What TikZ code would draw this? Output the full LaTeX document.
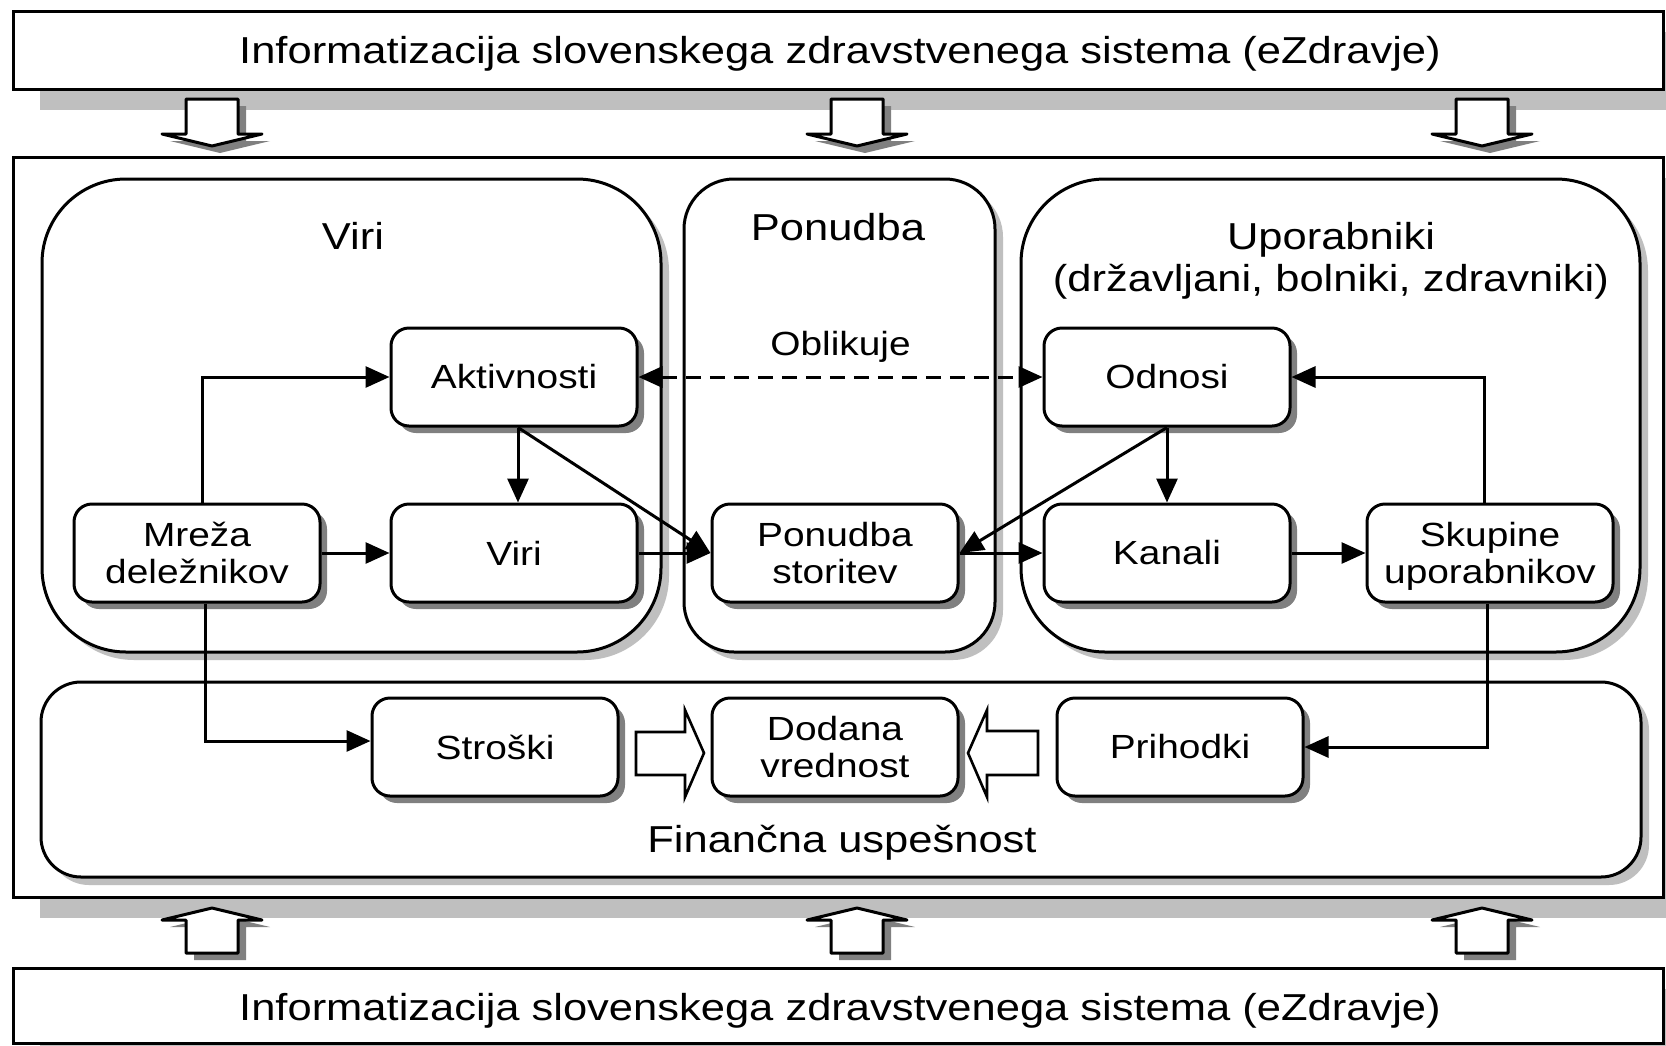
\documentclass[tikz,border=0pt]{standalone}
\usepackage{fontspec}
\setmainfont{Liberation Sans}[FakeStretch=1.16]
\usetikzlibrary{arrows.meta,shadows,calc}
\newcommand\bigf{\fontsize{18.75pt}{22pt}\selectfont}
\newcommand\boxf{\fontsize{16.75pt}{18.5pt}\selectfont}
\begin{document}
\begin{tikzpicture}[x=0.5pt,y=-0.5pt,
  box/.style={draw, line width=1.5pt, fill=white, rounded corners=9pt,
    minimum width=123pt, minimum height=49pt, inner sep=0pt, align=center,
    font=\boxf,
    drop shadow={shadow xshift=3.5pt, shadow yshift=-3.5pt, fill=black!50, opacity=1}},
  grp/.style={draw, line width=1.5pt, fill=white,
    drop shadow={shadow xshift=4pt, shadow yshift=-4pt, fill=black!25, opacity=1}},
  frame/.style={draw, line width=1.5pt, fill=white},
  conn/.style={line width=1.5pt, -{Triangle[length=12pt,width=10.5pt]}},
  dconn/.style={line width=1.5pt, dash pattern=on 7.5pt off 4.5pt,
    {Triangle[length=12pt,width=10.5pt]}-{Triangle[length=12pt,width=10.5pt]}},
  hollow/.style={draw, line width=1.3pt, fill=white, line join=miter},
  fat/.style={draw, line width=1.5pt, fill=white, line join=round},
  title/.style={font=\bigf, inner sep=0pt, anchor=base},
  lbl/.style={font=\boxf, inner sep=0pt, anchor=base}]
\useasboundingbox (0,0) rectangle (1666,1045);
\fill[white] (0,0) rectangle (1666,1045);

% top band
\fill[black!25] (40,32) rectangle (1690,110);
\draw[frame] (13,11) rectangle (1663,89);
\node[title] (toptext) at (840,63) {Informatizacija slovenskega zdravstvenega sistema (eZdravje)};

% outer frame
\fill[black!25] (40,178) rectangle (1690,918);
\draw[frame] (13,157) rectangle (1663,897);

% down arrows
\foreach \cx in {212,857,1482}{
  \fill[black!50, xshift=4pt, yshift=-3.5pt] (\cx-26,99) -- (\cx+26,99) -- (\cx+26,134) -- (\cx+50,134) -- (\cx,146) -- (\cx-50,134) -- (\cx-26,134) -- cycle;
  \draw[fat] (\cx-26,99) -- (\cx+26,99) -- (\cx+26,134) -- (\cx+50,134) -- (\cx,146) -- (\cx-50,134) -- (\cx-26,134) -- cycle;
}

% bottom band
\fill[black!25] (40,989) rectangle (1690,1066);
\draw[frame] (13,968) rectangle (1663,1043);
\node[title] (bottext) at (840,1020) {Informatizacija slovenskega zdravstvenega sistema (eZdravje)};

% up arrows
\foreach \cx in {212,857,1482}{
  \fill[black!50, xshift=4pt, yshift=-3.5pt] (\cx,908) -- (\cx+50,920) -- (\cx+26,920) -- (\cx+26,953) -- (\cx-26,953) -- (\cx-26,920) -- (\cx-50,920) -- cycle;
  \draw[fat] (\cx,908) -- (\cx+50,920) -- (\cx+26,920) -- (\cx+26,953) -- (\cx-26,953) -- (\cx-26,920) -- (\cx-50,920) -- cycle;
}

% groups
\draw[grp, rounded corners=42pt] (42,179) rectangle (661,652);
\draw[grp, rounded corners=25pt] (684,179) rectangle (995,652);
\draw[grp, rounded corners=42pt] (1021,179) rectangle (1640,652);
\draw[grp, rounded corners=20pt] (41,682) rectangle (1641,877);

\node[title] (tviri) at (353,249) {Viri};
\node[title] (tponudba) at (838,240) {Ponudba};
\node[title] (tupor) at (1331,249) {Uporabniki};
\node[title] (tupor2) at (1331,291) {(državljani, bolniki, zdravniki)};
\node[title] (tfin) at (842,852) {Finančna uspešnost};

% boxes
\node[box] (akt) at (514,377) {Aktivnosti};
\node[box] (viri) at (514,553) {Viri};
\node[box] (mreza) at (197,553) {Mreža\\deležnikov};
\node[box] (ps) at (835,553) {Ponudba\\storitev};
\node[box] (odn) at (1167,377) {Odnosi};
\node[box] (kan) at (1167,553) {Kanali};
\node[box, text depth=0pt] (sku) at (1490,553) {Skupine\\uporabnikov};
\node[box] (str) at (495,747) {Stroški};
\node[box] (dod) at (835,747) {Dodana\\vrednost};
\node[box] (pri) at (1180,747) {Prihodki};

% connectors
\draw[conn] ([xshift=2.75pt]mreza.north) |- (akt.west);
\draw[conn] (mreza.east) -- (viri.west);
\draw[conn] ([xshift=2pt]akt.south) -- ([xshift=2pt]viri.north);
\draw[conn] ([xshift=2pt]akt.south) -- (ps.west);
\draw[conn] (viri.east) -- (ps.west);
\draw[conn] (odn.south) -- (kan.north);
\draw[conn] (odn.south) -- (ps.east);
\draw[conn] (ps.east) -- (kan.west);
\draw[conn] (kan.east) -- (sku.west);
\draw[conn] ([xshift=-3pt]sku.north) |- (odn.east);
\draw[dconn] (akt.east) -- node[lbl, yshift=11pt] (obl) {Oblikuje} (odn.west);
\draw[conn] ([xshift=4pt]mreza.south) |- ([yshift=3pt]str.west);
\draw[conn] ([xshift=-1.5pt]sku.south) |- (pri.east);

% hollow arrows
\draw[hollow] (636,732) -- (685,732) -- (685,710) -- (704,753) -- (685,797) -- (685,775) -- (636,775) -- cycle;
\draw[hollow] (1038,731) -- (987,731) -- (987,710) -- (968,753) -- (987,797) -- (987,775) -- (1038,775) -- cycle;
\end{tikzpicture}
\end{document}
